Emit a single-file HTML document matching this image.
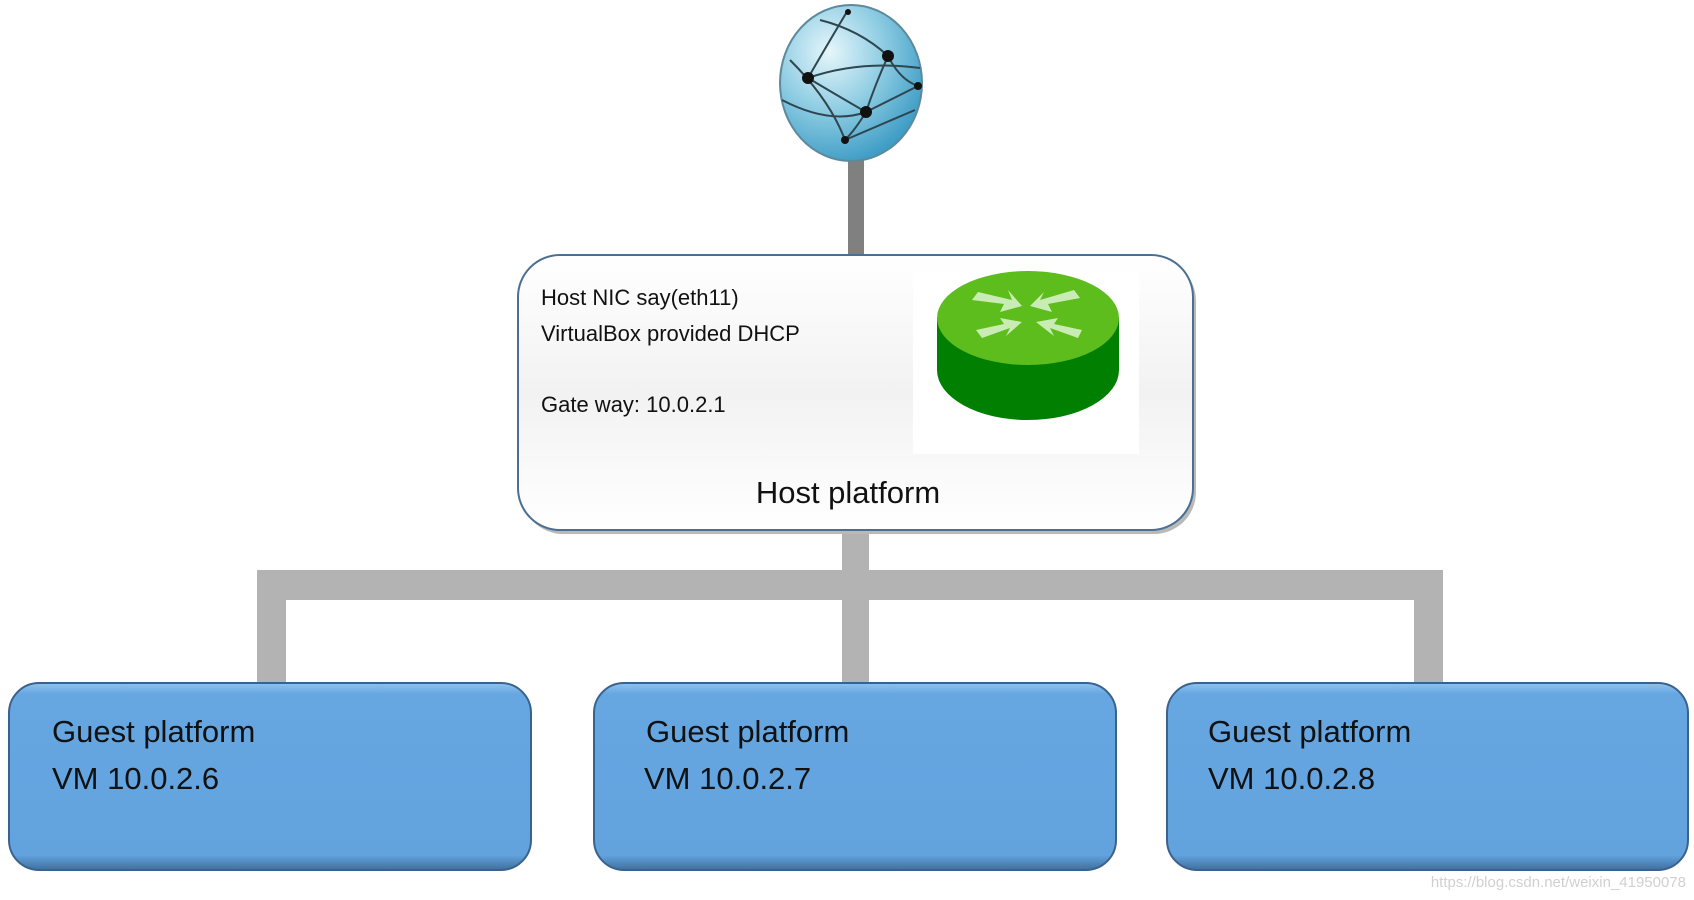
<!DOCTYPE html>
<html><head><meta charset="utf-8"><style>
html,body{margin:0;padding:0;background:#fff;}
svg{display:block;font-family:"Liberation Sans",sans-serif;}
</style></head><body>
<svg width="1694" height="900" viewBox="0 0 1694 900" xmlns="http://www.w3.org/2000/svg">
<defs>
<radialGradient id="gl" cx="0.35" cy="0.3" r="0.75">
<stop offset="0" stop-color="#e6f6fb"/><stop offset="0.5" stop-color="#8fcde3"/><stop offset="1" stop-color="#3a9ac4"/>
</radialGradient>
<linearGradient id="hb" x1="0" y1="0" x2="0" y2="1">
<stop offset="0" stop-color="#ffffff"/><stop offset="0.5" stop-color="#f2f2f2"/><stop offset="1" stop-color="#ffffff"/>
</linearGradient>
<linearGradient id="gb" x1="0" y1="0" x2="0" y2="1">
<stop offset="0" stop-color="#8ec3ef"/><stop offset="0.06" stop-color="#66a6e1"/><stop offset="0.92" stop-color="#62a3de"/><stop offset="1" stop-color="#3f6f9f"/>
</linearGradient>
</defs>
<!-- top connector -->
<rect x="848" y="160" width="16" height="96" fill="#808080"/>
<!-- globe -->
<ellipse cx="851" cy="83" rx="71" ry="78" fill="url(#gl)" stroke="#5c8a9c" stroke-width="2"/>
<g stroke="#2f4650" stroke-width="2" fill="none">
<path d="M808 78 Q860 60 920 68"/>
<path d="M808 78 Q845 100 866 112"/>
<path d="M866 112 Q900 95 918 86"/>
<path d="M808 78 Q830 40 848 10"/>
<path d="M888 56 Q900 80 918 86"/>
<path d="M888 56 Q875 85 866 112"/>
<path d="M866 112 Q855 130 845 140"/>
<path d="M845 140 Q880 125 915 110"/>
<path d="M790 60 Q830 100 845 140"/>
<path d="M820 20 Q860 30 888 56"/>
<path d="M782 100 Q830 125 866 112"/>
</g>
<g fill="#111">
<circle cx="808" cy="78" r="6"/><circle cx="888" cy="56" r="6"/><circle cx="866" cy="112" r="6"/><circle cx="918" cy="86" r="4"/><circle cx="845" cy="140" r="4"/><circle cx="848" cy="12" r="3"/>
</g>
<!-- bottom connectors -->
<g fill="#b3b3b3">
<rect x="842" y="528" width="27" height="156"/>
<rect x="257" y="570" width="1186" height="30"/>
<rect x="257" y="570" width="29" height="114"/>
<rect x="1414" y="570" width="29" height="114"/>
</g>
<!-- host box -->
<rect x="518" y="255" width="675" height="275" rx="42" fill="#b9b9b9" transform="translate(3,4)"/>
<rect x="518" y="255" width="675" height="275" rx="42" fill="url(#hb)" stroke="#4a6f92" stroke-width="2"/>
<rect x="913" y="272" width="226" height="182" fill="#ffffff"/>
<!-- router -->
<path d="M937 318 L937 370 A91 50 0 0 0 1119 370 L1119 318 Z" fill="#007f00"/>
<ellipse cx="1028" cy="318" rx="91" ry="47" fill="#5cbd1c"/>
<g fill="#c9ecb4">
<path d="M978 292 L1012 300 L1008 290 L1022 306 L1000 312 L1004 304 L972 300 Z"/>
<path d="M1074 290 L1040 300 L1044 292 L1030 306 L1052 312 L1048 304 L1080 298 Z"/>
<path d="M982 338 L1010 328 L1006 336 L1022 322 L1000 318 L1004 324 L976 330 Z"/>
<path d="M1078 338 L1050 328 L1054 336 L1036 322 L1058 318 L1054 324 L1082 330 Z"/>
</g>
<g font-size="22" fill="#111">
<text x="541" y="305">Host NIC say(eth11)</text>
<text x="541" y="341">VirtualBox provided DHCP</text>
<text x="541" y="412">Gate way: 10.0.2.1</text>
</g>
<text x="848" y="503" font-size="31" fill="#111" text-anchor="middle">Host platform</text>
<!-- guest boxes -->
<g stroke="#3b628c" stroke-width="2">
<rect x="9" y="683" width="522" height="187" rx="30" fill="url(#gb)"/>
<rect x="594" y="683" width="522" height="187" rx="30" fill="url(#gb)"/>
<rect x="1167" y="683" width="521" height="187" rx="30" fill="url(#gb)"/>
</g>
<g font-size="31" fill="#111">
<text x="52" y="742">Guest platform</text>
<text x="52" y="789">VM 10.0.2.6</text>
<text x="646" y="742">Guest platform</text>
<text x="644" y="789">VM 10.0.2.7</text>
<text x="1208" y="742">Guest platform</text>
<text x="1208" y="789">VM 10.0.2.8</text>
</g>
<text x="1686" y="887" font-size="15" fill="#d0d0d0" text-anchor="end">https://blog.csdn.net/weixin_41950078</text>
</svg>
</body></html>
